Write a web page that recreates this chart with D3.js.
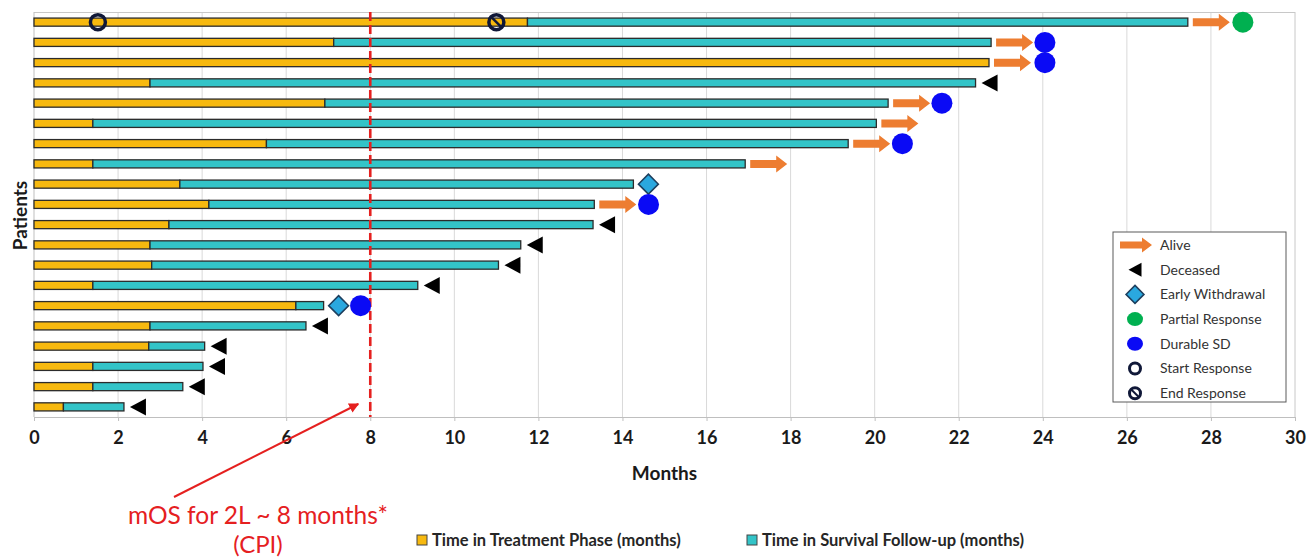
<!DOCTYPE html>
<html>
<head>
<meta charset="utf-8">
<script src="https://cdn.jsdelivr.net/npm/d3@7"></script>
<style>
  body { margin: 0; background: #fff; }
  svg { display: block; font-family: Lato, "Open Sans", sans-serif; }
</style>
</head>
<body>
<div id="chart"></div>
<script>
// dados (meses)
const patients = ["P1","P2","P3","P4","P5","P6","P7","P8","P9","P10","P11","P12","P13","P14","P15","P16","P17","P18","P19","P20"];
const treatmentMonths = [11.74, 7.13, 22.72, 2.76, 6.92, 1.40, 5.53, 1.40, 3.47, 4.16, 3.21, 2.76, 2.80, 1.40, 6.23, 2.76, 2.73, 1.40, 1.40, 0.70];
const totalMonths = [27.45, 22.77, 22.72, 22.40, 20.32, 20.04, 19.37, 16.92, 14.26, 13.33, 13.30, 11.58, 11.05, 9.13, 6.89, 6.47, 4.06, 4.02, 3.54, 2.14];
const outcome = ["Alive","Alive","Alive","Deceased","Alive","Alive","Alive","Alive","Early Withdrawal","Alive",
  "Deceased","Deceased","Deceased","Deceased","Early Withdrawal","Deceased","Deceased","Deceased","Deceased","Deceased"];
const responseType = ["Partial Response","Durable SD","Durable SD",null,"Durable SD",null,"Durable SD",null,null,"Durable SD",
  null,null,null,null,"Durable SD",null,null,null,null,null];
const responseMonth = [28.76, 24.05, 24.05, null, 21.6, null, 20.66, null, null, 14.62,
  null, null, null, null, 7.77, null, null, null, null, null];
const startResponse = [{ patient: "P1", month: 1.52 }];
const endResponse = [{ patient: "P1", month: 11.0 }];
const xTickValues = [0, 2, 4, 6, 8, 10, 12, 14, 16, 18, 20, 22, 24, 26, 28, 30];
const medianOS = 8;
const legendItems = ["Alive", "Deceased", "Early Withdrawal", "Partial Response", "Durable SD", "Start Response", "End Response"];
const seriesNames = ["Time in Treatment Phase (months)", "Time in Survival Follow-up (months)"];

const colors = {
  treatment: "#f7b90f",
  followup: "#33c4c8",
  outline: "#2b2b2b",
  alive: "#ed7d31",
  deceased: "#000000",
  withdrawal: "#2aa8df",
  partial: "#00b050",
  durable: "#0a0af5",
  ring: "#101838",
  red: "#e5201f"
};

// dimensões
const W = 1306, H = 558;
const margin = { top: 12, right: 11, bottom: 141, left: 34 };
const width = W - margin.left - margin.right;
const height = H - margin.top - margin.bottom;

const x = d3.scaleLinear().domain([0, 30]).range([0, width]);
const y = d3.scaleBand().domain(patients).range([0, height]).paddingInner(0.6).paddingOuter(0.3);
const barH = y.bandwidth();
const cy = p => y(p) + barH / 2;

const svg = d3.select("#chart").append("svg")
  .attr("width", W).attr("height", H);

const g = svg.append("g")
  .attr("transform", `translate(${margin.left},${margin.top})`);

// grade vertical
g.append("g")
  .selectAll("line")
  .data(xTickValues.filter(d => d > 0 && d < 30))
  .join("line")
  .attr("x1", d => x(d)).attr("x2", d => x(d))
  .attr("y1", 0).attr("y2", height)
  .attr("stroke", "#d9d9d9").attr("stroke-width", 1);

// bordas do gráfico
g.append("line").attr("x1", 0).attr("x2", width).attr("y1", 0.5).attr("y2", 0.5).attr("stroke", "#c8c8c8");
g.append("line").attr("x1", width).attr("x2", width).attr("y1", 0).attr("y2", height).attr("stroke", "#c8c8c8");
g.append("line").attr("x1", 0).attr("x2", 0).attr("y1", 0).attr("y2", height).attr("stroke", "#bfbfbf");

// eixo x
const xAxis = g.append("g")
  .attr("transform", `translate(0,${height})`)
  .call(d3.axisBottom(x).tickValues(xTickValues).tickSize(4).tickPadding(10).tickFormat(d3.format("d")));
xAxis.select(".domain").attr("stroke", "#bfbfbf");
xAxis.selectAll(".tick line").attr("stroke", "#bfbfbf");
xAxis.selectAll(".tick text")
  .attr("fill", "#1a1a1a")
  .style("font-size", "18px")
  .style("font-weight", "bold")
  .style("font-family", "Lato, sans-serif");

// títulos dos eixos
svg.append("text")
  .attr("x", margin.left + x(15)).attr("y", 480)
  .attr("text-anchor", "middle")
  .style("font-size", "19px").style("font-weight", "bold")
  .attr("fill", "#1a1a1a")
  .text("Months");

svg.append("text")
  .attr("transform", `translate(27,${margin.top + height / 2 + 1}) rotate(-90)`)
  .attr("text-anchor", "middle")
  .style("font-size", "19px").style("font-weight", "bold")
  .attr("fill", "#1a1a1a")
  .text("Patients");

// dados das linhas
const rows = patients.map((p, i) => ({
  patient: p,
  treatment: treatmentMonths[i],
  total: totalMonths[i],
  outcome: outcome[i],
  response: responseType[i],
  responseAt: responseMonth[i]
}));

// barras de tratamento
g.append("g").selectAll("rect")
  .data(rows)
  .join("rect")
  .attr("x", x(0))
  .attr("y", d => y(d.patient))
  .attr("width", d => x(d.treatment) - x(0))
  .attr("height", barH)
  .attr("fill", colors.treatment)
  .attr("stroke", colors.outline).attr("stroke-width", 1.3);

// barras de seguimento
g.append("g").selectAll("rect")
  .data(rows.filter(d => d.total > d.treatment))
  .join("rect")
  .attr("x", d => x(d.treatment))
  .attr("y", d => y(d.patient))
  .attr("width", d => x(d.total) - x(d.treatment))
  .attr("height", barH)
  .attr("fill", colors.followup)
  .attr("stroke", colors.outline).attr("stroke-width", 1.3);

// formas dos símbolos
function arrowPath(x0, yc, len, shaft, head, headLen) {
  const x1 = x0 + len - headLen;
  return `M${x0},${yc - shaft / 2}H${x1}V${yc - head / 2}L${x0 + len},${yc}L${x1},${yc + head / 2}V${yc + shaft / 2}H${x0}Z`;
}
function trianglePath(xc, yc, w, h) {
  return `M${xc - w / 2},${yc}L${xc + w / 2},${yc - h / 2}L${xc + w / 2},${yc + h / 2}Z`;
}
function diamondPath(xc, yc, r) {
  return `M${xc},${yc - r}L${xc + r},${yc}L${xc},${yc + r}L${xc - r},${yc}Z`;
}

// linha da mediana (mOS)
g.append("line")
  .attr("x1", x(medianOS)).attr("x2", x(medianOS))
  .attr("y1", 0).attr("y2", height)
  .attr("stroke", colors.red).attr("stroke-width", 2.6)
  .attr("stroke-dasharray", "9,4");

// marcadores de desfecho
const markers = g.append("g");

markers.selectAll("path.alive")
  .data(rows.filter(d => d.outcome === "Alive"))
  .join("path")
  .attr("class", "alive")
  .attr("d", d => arrowPath(x(d.total) + 5, cy(d.patient), 37, 8, 17, 11))
  .attr("fill", colors.alive);

markers.selectAll("path.deceased")
  .data(rows.filter(d => d.outcome === "Deceased"))
  .join("path")
  .attr("class", "deceased")
  .attr("d", d => trianglePath(x(d.total) + 14, cy(d.patient), 16, 17))
  .attr("fill", colors.deceased);

markers.selectAll("path.withdrawal")
  .data(rows.filter(d => d.outcome === "Early Withdrawal"))
  .join("path")
  .attr("class", "withdrawal")
  .attr("d", d => diamondPath(x(d.total) + 15, cy(d.patient), 10))
  .attr("fill", colors.withdrawal)
  .attr("stroke", "#1d3f5e").attr("stroke-width", 1.5);

markers.selectAll("circle.response")
  .data(rows.filter(d => d.response))
  .join("circle")
  .attr("class", "response")
  .attr("cx", d => x(d.responseAt))
  .attr("cy", d => cy(d.patient))
  .attr("r", 10.5)
  .attr("fill", d => d.response === "Partial Response" ? colors.partial : colors.durable);

markers.selectAll("circle.start")
  .data(startResponse)
  .join("circle")
  .attr("class", "start")
  .attr("cx", d => x(d.month)).attr("cy", d => cy(d.patient))
  .attr("r", 7.5)
  .attr("fill", "none")
  .attr("stroke", colors.ring).attr("stroke-width", 3.5);

const endG = markers.selectAll("g.end")
  .data(endResponse)
  .join("g")
  .attr("class", "end")
  .attr("transform", d => `translate(${x(d.month)},${cy(d.patient)})`);
endG.append("circle").attr("r", 7.5).attr("fill", "none")
  .attr("stroke", colors.ring).attr("stroke-width", 3.5);
endG.append("line").attr("x1", -5).attr("y1", -5).attr("x2", 5).attr("y2", 5)
  .attr("stroke", colors.ring).attr("stroke-width", 2.5);

// legenda de símbolos
const lg = svg.append("g").attr("transform", "translate(1113,232)");
lg.append("rect")
  .attr("width", 173).attr("height", 170)
  .attr("fill", "#fff").attr("stroke", "#5a5a5a").attr("stroke-width", 1);

const ly = i => 13 + i * 24.7;
legendItems.forEach((name, i) => {
  const yy = ly(i);
  if (name === "Alive") {
    lg.append("path").attr("d", arrowPath(7, yy, 32, 7, 15, 10)).attr("fill", colors.alive);
  } else if (name === "Deceased") {
    lg.append("path").attr("d", trianglePath(22, yy, 13, 14)).attr("fill", colors.deceased);
  } else if (name === "Early Withdrawal") {
    lg.append("path").attr("d", diamondPath(22, yy, 9)).attr("fill", colors.withdrawal)
      .attr("stroke", "#1d3f5e").attr("stroke-width", 1.5);
  } else if (name === "Partial Response") {
    lg.append("ellipse").attr("cx", 22).attr("cy", yy).attr("rx", 8).attr("ry", 7).attr("fill", colors.partial);
  } else if (name === "Durable SD") {
    lg.append("ellipse").attr("cx", 22).attr("cy", yy).attr("rx", 8).attr("ry", 7).attr("fill", colors.durable);
  } else {
    lg.append("circle").attr("cx", 22).attr("cy", yy).attr("r", 5.5)
      .attr("fill", "none").attr("stroke", colors.ring).attr("stroke-width", 3);
    if (name === "End Response") {
      lg.append("line").attr("x1", 18.5).attr("y1", yy - 3.5).attr("x2", 25.5).attr("y2", yy + 3.5)
        .attr("stroke", colors.ring).attr("stroke-width", 2);
    }
  }
  lg.append("text")
    .attr("x", 47).attr("y", yy).attr("dy", "0.35em")
    .style("font-size", "14px")
    .attr("fill", "#333")
    .text(name);
});

// legenda das séries
const sg = svg.append("g").attr("transform", "translate(0,540)");
const seriesX = [417, 747];
const seriesColors = [colors.treatment, colors.followup];
seriesNames.forEach((name, i) => {
  sg.append("rect")
    .attr("x", seriesX[i]).attr("y", -5)
    .attr("width", 10).attr("height", 10)
    .attr("fill", seriesColors[i]).attr("stroke", "#444").attr("stroke-width", 1);
  sg.append("text")
    .attr("x", seriesX[i] + 15).attr("y", 0).attr("dy", "0.35em")
    .style("font-size", "16.5px").style("font-weight", "bold")
    .attr("fill", "#262626")
    .text(name);
});

// anotação mOS
const defs = svg.append("defs");
defs.append("marker")
  .attr("id", "redhead")
  .attr("viewBox", "0 0 10 10")
  .attr("refX", 9).attr("refY", 5)
  .attr("markerWidth", 5).attr("markerHeight", 5)
  .attr("orient", "auto")
  .append("path").attr("d", "M0,0L10,5L0,10Z").attr("fill", colors.red);

svg.append("line")
  .attr("x1", 174).attr("y1", 497)
  .attr("x2", margin.left + x(medianOS) - 12).attr("y2", margin.top + height - 13)
  .attr("stroke", colors.red).attr("stroke-width", 2)
  .attr("marker-end", "url(#redhead)");

svg.append("text")
  .attr("x", 258).attr("y", 524)
  .attr("text-anchor", "middle")
  .style("font-size", "24.5px")
  .attr("fill", colors.red)
  .text("mOS for 2L ~ 8 months*");
svg.append("text")
  .attr("x", 258).attr("y", 553)
  .attr("text-anchor", "middle")
  .style("font-size", "24px")
  .attr("fill", colors.red)
  .text("(CPI)");
</script>
</body>
</html>
